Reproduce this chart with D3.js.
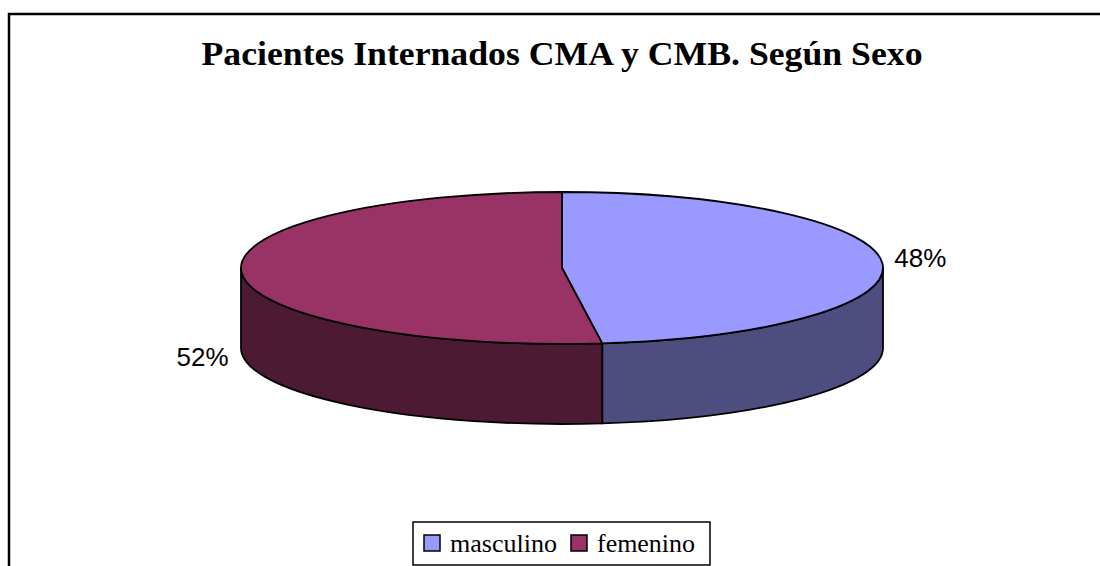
<!DOCTYPE html>
<html>
<head>
<meta charset="utf-8">
<script src="https://cdn.jsdelivr.net/npm/d3@7/dist/d3.min.js"></script>
<style>
  body { margin: 0; background: #fff; }
  svg { display: block; }
</style>
</head>
<body>
<div class="chart"></div>
<script>
var categories = ["masculino", "femenino"];
var values = [48, 52];
var labels = ["48%", "52%"];
var topColors = ["#9999ff", "#993366"];
var sideColors = ["#4d4d80", "#4d1a33"];
var title = "Pacientes Internados CMA y CMB. Según Sexo";

var width = 1100, height = 566;
var cx = 562, cy = 268, rx = 321, ry = 76, depth = 80;

var svg = d3.select(".chart").append("svg")
    .attr("width", width)
    .attr("height", height);

// chart frame (cut by the window on right/bottom)
svg.append("rect")
    .attr("x", 9).attr("y", 14)
    .attr("width", 1200).attr("height", 700)
    .attr("fill", "none")
    .attr("stroke", "#000")
    .attr("stroke-width", 2.5);

svg.append("text")
    .attr("x", cx).attr("y", 65)
    .attr("text-anchor", "middle")
    .attr("font-family", "Liberation Serif, Times New Roman, serif")
    .attr("font-weight", "bold")
    .attr("font-size", 33)
    .attr("textLength", 721)
    .attr("lengthAdjust", "spacingAndGlyphs")
    .text(title);

var pie = d3.pie().sort(null).value(function(d) { return d; });
var arcs = pie(values);

function pt(a, dy) {
  return [cx + rx * Math.sin(a), cy - ry * Math.cos(a) + (dy || 0)];
}

// front walls
var g = svg.append("g");
arcs.forEach(function(d, i) {
  var b0 = Math.max(d.startAngle, Math.PI / 2);
  var b1 = Math.min(d.endAngle, 3 * Math.PI / 2);
  if (b0 >= b1) return;
  var p0 = pt(b0), p1 = pt(b1), q1 = pt(b1, depth), q0 = pt(b0, depth);
  var large = (b1 - b0) > Math.PI ? 1 : 0;
  g.append("path")
      .attr("d", "M" + p0 + "A" + rx + "," + ry + " 0 " + large + " 1 " + p1 +
                 "L" + q1 + "A" + rx + "," + ry + " 0 " + large + " 0 " + q0 + "Z")
      .attr("fill", sideColors[i])
      .attr("stroke", "#000")
      .attr("stroke-width", 1.8)
      .attr("stroke-linejoin", "round");
});

// top faces
arcs.forEach(function(d, i) {
  var p0 = pt(d.startAngle), p1 = pt(d.endAngle);
  var large = (d.endAngle - d.startAngle) > Math.PI ? 1 : 0;
  g.append("path")
      .attr("d", "M" + cx + "," + cy + "L" + p0 + "A" + rx + "," + ry + " 0 " + large + " 1 " + p1 + "Z")
      .attr("fill", topColors[i])
      .attr("stroke", "#000")
      .attr("stroke-width", 1.8)
      .attr("stroke-linejoin", "round");
});

// percentage labels
arcs.forEach(function(d, i) {
  var mid = (d.startAngle + d.endAngle) / 2;
  var s = Math.sin(mid);
  var p = pt(mid, mid > Math.PI ? depth + 4 : -5);
  svg.append("text")
      .attr("x", p[0] + (s > 0 ? 12 : -13))
      .attr("y", p[1])
      .attr("dy", "0.35em")
      .attr("text-anchor", s > 0 ? "start" : "end")
      .attr("font-family", "Liberation Sans, Arial, sans-serif")
      .attr("font-size", 26)
      .text(labels[i]);
});

// legend
var leg = svg.append("g");
leg.append("rect")
    .attr("x", 413).attr("y", 522)
    .attr("width", 297).attr("height", 43)
    .attr("fill", "#fff")
    .attr("stroke", "#000")
    .attr("stroke-width", 1.5);

var lx = d3.scaleOrdinal().domain(categories).range([424, 571]);
var lw = d3.scaleOrdinal().domain(categories).range([107, 98]);
categories.forEach(function(c, i) {
  leg.append("rect")
      .attr("x", lx(c)).attr("y", 535)
      .attr("width", 16).attr("height", 16)
      .attr("fill", topColors[i])
      .attr("stroke", "#000")
      .attr("stroke-width", 1.5);
  leg.append("text")
      .attr("x", lx(c) + 26).attr("y", 552)
      .attr("font-family", "Liberation Serif, Times New Roman, serif")
      .attr("font-size", 25)
      .attr("textLength", lw(c))
      .attr("lengthAdjust", "spacingAndGlyphs")
      .text(c);
});
</script>
</body>
</html>
